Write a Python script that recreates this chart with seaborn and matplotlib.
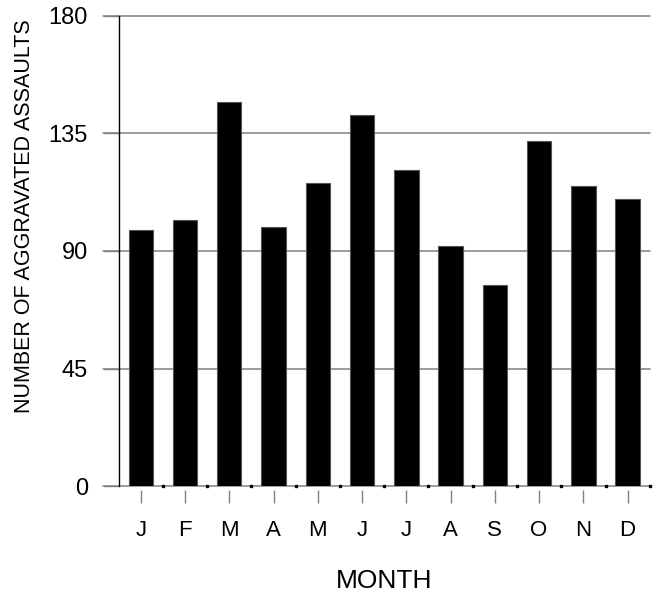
import matplotlib
matplotlib.use("Agg")
import matplotlib.pyplot as plt
import numpy as np
import pandas as pd
import seaborn as sns

sns.set_style("white")
plt.rcParams["font.family"] = ["Liberation Sans", "DejaVu Sans"]
plt.rcParams["text.color"] = "black"
plt.rcParams["axes.labelcolor"] = "black"

# Monthly counts
months = ["Jan", "Feb", "Mar", "Apr", "May", "Jun",
          "Jul", "Aug", "Sep", "Oct", "Nov", "Dec"]
month_labels = ["J", "F", "M", "A", "M", "J", "J", "A", "S", "O", "N", "D"]
assaults = [98, 102, 147, 99, 116, 142, 121, 92, 77, 132, 115, 110]
y_ticks = [0, 45, 90, 135, 180]

df = pd.DataFrame({"month": months, "count": assaults})

GRID = "#808080"

fig = plt.figure(figsize=(6.59, 5.92), dpi=100)
ax = fig.add_axes([0.18, 0.1787, 0.806, 0.7948])

# gridlines, stretched left into the tick area
for yv in y_ticks[1:]:
    ax.axhline(yv, xmin=-0.03, xmax=1, color=GRID, lw=1.1, clip_on=False, zorder=0)
ax.axhline(0, xmin=-0.03, xmax=1, color=GRID, lw=1.1, clip_on=False, zorder=1)

sns.barplot(data=df, x="month", y="count", order=months, color="black",
            saturation=1, width=0.55, edgecolor="#555555", linewidth=0.8,
            ax=ax, zorder=2)

# small black dots on the baseline between categories
gaps = np.arange(len(months)) + 0.5
ax.plot(gaps, np.zeros_like(gaps), ls="none", marker="s", ms=1.8,
        color="black", clip_on=False, zorder=3)

ax.set_xlim(-0.5, len(months) - 0.5)
ax.set_ylim(0, 180)
ax.set_yticks(y_ticks)
ax.set_xticks(range(len(months)))
ax.set_xticklabels(month_labels)

for side in ["top", "right", "bottom"]:
    ax.spines[side].set_visible(False)
ax.spines["bottom"].set_position(("outward", 3))
ax.spines["left"].set_color("black")
ax.spines["left"].set_linewidth(1.0)

ax.tick_params(axis="x", bottom=True, direction="out", length=9.5, width=1,
               color=GRID, pad=12, labelsize=16, labelcolor="black")
ax.tick_params(axis="y", left=True, direction="out", length=11, width=1,
               color=GRID, pad=11, labelsize=17, labelcolor="black")

ax.set_xlabel("MONTH", fontsize=19, color="black")
ax.set_ylabel("NUMBER OF AGGRAVATED ASSAULTS", fontsize=15.5, color="black")
ax.xaxis.set_label_coords(0.5, -0.175)
ax.yaxis.set_label_coords(-0.158, 0.574)

fig.savefig("out.png", dpi=100)
